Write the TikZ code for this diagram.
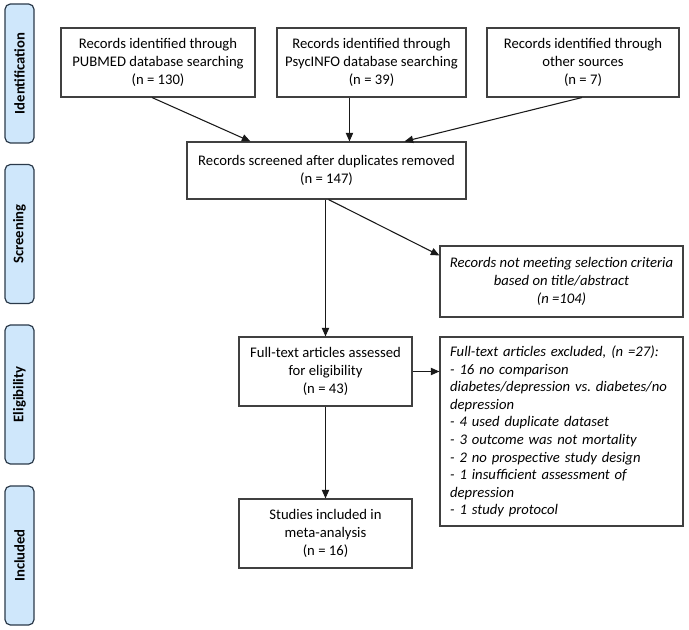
\documentclass[tikz,border=0pt]{standalone}
\usepackage{fontspec}
\setmainfont{Carlito}
\usetikzlibrary{arrows.meta,calc}
\definecolor{barfill}{HTML}{CFE7FB}
\definecolor{barline}{HTML}{2B3A4A}
\definecolor{boxline}{HTML}{404040}
\begin{document}
\begin{tikzpicture}[x=0.75pt,y=-0.75pt,
  box/.style={draw=boxline,line width=0.8pt,align=center,inner sep=0pt,
    font=\fontsize{11pt}{13.2pt}\selectfont},
  phase/.style={draw=barline,fill=barfill,line width=0.9pt,rounded corners=4pt,
    rotate=90,minimum width=104.25pt,minimum height=21.75pt,inner sep=0pt,
    font=\fontsize{11pt}{13pt}\selectfont\bfseries},
  arr/.style={draw=black!90,line width=0.8pt,-{Triangle[length=6.5pt,width=5.5pt]}}]
\useasboundingbox (0,0) rectangle (689,630);

% phase bars
\node[phase] (p1) at (19.5,73.5) {Identification};
\node[phase] (p2) at (19.5,234) {Screening};
\node[phase] (p3) at (19.5,394.5) {Eligibility};
\node[phase] (p4) at (19.5,555.5) {Included};

% boxes
\node[box,minimum width=145.5pt,minimum height=51.75pt] (b1) at (158,62.5)
  {Records identified through\\PUBMED database searching\\(n = 130)};
\node[box,minimum width=141.75pt,minimum height=51.75pt] (b2) at (371.5,62.5)
  {Records identified through\\PsycINFO database searching\\(n = 39)};
\node[box,minimum width=144pt,minimum height=51.75pt] (b3) at (583,62.5)
  {Records identified through\\other sources\\(n = 7)};
\node[box,minimum width=209.25pt,minimum height=42.75pt] (scr) at (326.5,170.5)
  {Records screened after duplicates removed\\(n = 147)};
\node[box,minimum width=182.25pt,minimum height=53.25pt] (nm) at (561.5,281.5)
  {\itshape Records not meeting selection criteria\\\itshape based on title/abstract\\\itshape (n =104)};
\node[box,minimum width=129.75pt,minimum height=51.75pt] (ft) at (325.5,371.5)
  {Full-text articles assessed\\for eligibility\\(n = 43)};
\node[box,minimum width=182.25pt,minimum height=141.75pt,text width=167pt,align=left] (ex) at (561.5,431.5)
  {\itshape Full-text articles excluded, (n =27):\\
   - 16 no comparison\\
   diabetes/depression vs.\ diabetes/no\\
   depression\\
   - 4 used duplicate dataset\\
   - 3 outcome was not mortality\\
   - 2 no prospective study design\\
   - 1 insufficient assessment of\\
   depression\\
   - 1 study protocol};
\node[box,minimum width=129.75pt,minimum height=51.75pt] (inc) at (325.5,533.5)
  {Studies included in\\meta-analysis\\(n = 16)};

% connectors
\coordinate (b1out) at ($(b1.south)+(-6,0)$);
\coordinate (b2out) at ($(b2.south west)+(73,0)$);
\coordinate (b3out) at ($(b3.south)+(-1,0)$);
\draw[arr] (b1out) -- ($(scr.north west)+(64,0)$);
\draw[arr] (b2out) -- (b2out |- scr.north);
\draw[arr] (b3out) -- ($(scr.north west)+(218,0)$);
\draw[arr] (ft.north |- scr.south) -- (ft.north);
\draw[arr] ($(scr.south)+(2,0)$) -- ($(nm.north west)+(0,10)$);
\draw[arr] (ft.east) -- (ft.east -| ex.west);
\draw[arr] (ft.south) -- (inc.north);
\end{tikzpicture}
\end{document}
